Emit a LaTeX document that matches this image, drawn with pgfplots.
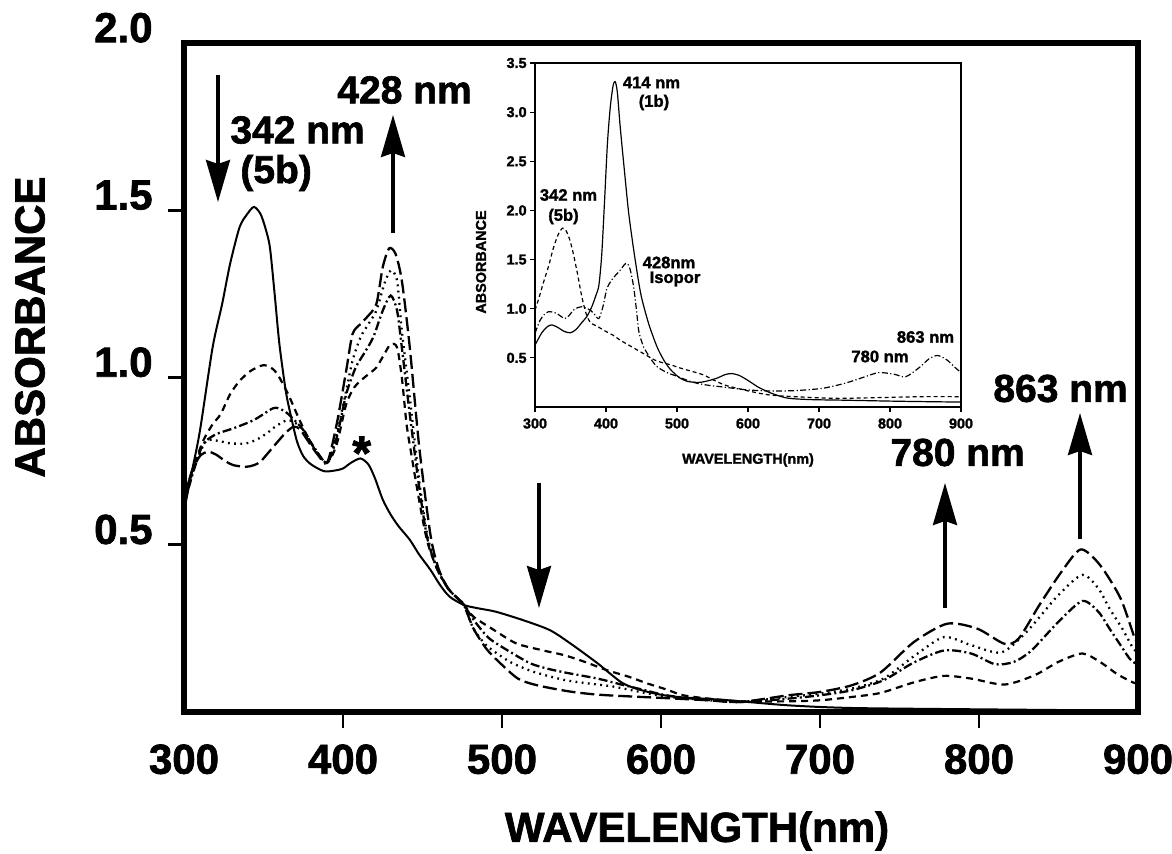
\documentclass[border=0pt]{standalone}
\usepackage{fontspec}
\setmainfont{Liberation Sans}[BoldFeatures={FakeBold=1.6}]
\usepackage{pgfplots}
\pgfplotsset{compat=1.18}
\usetikzlibrary{arrows.meta}
\newcommand{\bigfnt}{\bfseries\fontsize{21}{22}\selectfont}
\newcommand{\annfnt}{\bfseries\fontsize{19.5}{21}\selectfont}
\newcommand{\insfnt}{\bfseries\fontsize{7.2}{8}\selectfont}
\newcommand{\insann}{\bfseries\fontsize{8.3}{9}\selectfont}
\tikzset{
 cA/.style={line width=1pt, smooth, tension=0.45},
 cB/.style={line width=1.1pt, smooth, tension=0.45, dash pattern=on 3.5pt off 2.5pt},
 cC/.style={line width=1.15pt, smooth, tension=0.45, dash pattern=on 4.5pt off 1.6pt on 1pt off 1.6pt},
 cD/.style={line width=1.15pt, smooth, tension=0.45, dash pattern=on 0.9pt off 2.2pt},
 cE/.style={line width=1.15pt, smooth, tension=0.45, dash pattern=on 7pt off 2.5pt},
 bigarrow/.style={line width=1.7pt, -{Stealth[length=21pt,width=12pt,inset=2pt]}},
}
\begin{document}
\begin{tikzpicture}
\useasboundingbox (-92pt,-70.5pt) rectangle (494pt,356pt);
% ---------------- main axis ----------------
\begin{axis}[
 at={(0,0)}, anchor=south west,
 scale only axis, width=477pt, height=334.5pt,
 xmin=300, xmax=900, ymin=0, ymax=2,
 clip=false,
 axis line style={line width=2.6pt},
 tick align=outside, major tick length=8pt,
 major tick style={line width=1.3pt, black},
 xtick pos=bottom, ytick pos=left,
 xtick={400,500,600,700,800}, xticklabels={400,500,600,700,800},
 ytick={0.5,1,1.5}, yticklabels={0.5,1.0,1.5},
 extra x ticks={300,900}, extra x tick labels={300,900},
 extra y ticks={2}, extra y tick labels={2.0},
 extra tick style={major tick style={draw=none}},
 xticklabel style={font=\bigfnt, inner sep=0pt, anchor=north, yshift=-8pt},
 yticklabel style={font=\bigfnt, inner sep=0pt, anchor=south east, xshift=-7.5pt},
]
% solid (5b)
\addplot[cA] coordinates {
(300,0.60)(305,0.72)(310,0.84)(318,1.09)(324,1.22)(329,1.34)(335,1.45)(340,1.49)(344,1.51)(348,1.49)(351,1.45)(354,1.39)(357,1.25)(360,1.10)(364,0.96)(367,0.89)(371,0.81)(375,0.765)(380,0.74)(388,0.72)(395,0.722)(400,0.728)(405,0.745)(411,0.758)(416,0.74)(420,0.70)(425,0.635)(430,0.59)(435,0.555)(442,0.515)(448,0.47)(455,0.425)(461,0.38)(467,0.345)(476,0.32)(485,0.31)(496,0.30)(513,0.275)(530,0.245)(543,0.205)(560,0.146)(576,0.086)(591,0.061)(608,0.046)(640,0.036)(680,0.02)(720,0.012)(800,0.008)(900,0.004)};
% short dash
\addplot[cB] coordinates {
(300,0.64)(305,0.72)(312,0.81)(318,0.86)(323,0.89)(329,0.95)(335,0.99)(342,1.02)(350,1.037)(356,1.025)(360,1.00)(366,0.945)(372,0.88)(377,0.83)(383,0.78)(390,0.745)(396,0.80)(402,0.92)(407,0.97)(411,0.99)(416,1.01)(421,1.03)(426,1.07)(430,1.10)(434,1.09)(437,1.00)(440,0.86)(443,0.77)(448,0.63)(453,0.51)(459,0.43)(466,0.37)(472,0.34)(477,0.315)(482,0.285)(495,0.245)(509,0.205)(525,0.185)(539,0.17)(552,0.15)(566,0.125)(580,0.105)(591,0.086)(603,0.068)(614,0.05)(630,0.04)(650,0.032)(680,0.032)(700,0.035)(720,0.045)(738,0.057)(760,0.09)(778,0.108)(795,0.10)(816,0.082)(835,0.11)(850,0.15)(865,0.175)(876,0.15)(887,0.113)(897,0.088)(900,0.085)};
% dash-dot
\addplot[cC] coordinates {
(300,0.62)(306,0.72)(312,0.80)(320,0.83)(331,0.848)(344,0.873)(356,0.908)(361,0.905)(365,0.893)(370,0.87)(375,0.843)(382,0.79)(390,0.745)(396,0.82)(402,0.95)(408,1.03)(413,1.07)(419,1.12)(425,1.20)(430,1.245)(434,1.20)(437,1.09)(442,0.89)(448,0.67)(453,0.52)(459,0.43)(466,0.37)(472,0.34)(476,0.32)(483,0.27)(492,0.22)(505,0.18)(518,0.145)(530,0.128)(543,0.115)(560,0.10)(576,0.081)(590,0.065)(602,0.051)(620,0.04)(650,0.03)(680,0.04)(700,0.05)(720,0.065)(740,0.095)(759,0.148)(778,0.184)(795,0.175)(810,0.143)(822,0.15)(833,0.184)(850,0.27)(865,0.332)(875,0.30)(882,0.25)(889,0.20)(895,0.158)(900,0.14)};
% dotted
\addplot[cD] coordinates {
(300,0.63)(307,0.74)(314,0.81)(322,0.81)(329,0.803)(339,0.803)(346,0.815)(352,0.833)(358,0.855)(365,0.873)(369,0.866)(373,0.853)(380,0.80)(390,0.745)(396,0.83)(402,0.96)(406,1.05)(411,1.12)(416,1.16)(421,1.20)(426,1.28)(430,1.32)(434,1.29)(437,1.14)(442,0.94)(448,0.69)(453,0.53)(459,0.43)(466,0.37)(472,0.34)(476,0.32)(482,0.25)(490,0.20)(500,0.165)(507,0.145)(520,0.12)(539,0.096)(555,0.085)(570,0.076)(591,0.056)(605,0.045)(630,0.035)(650,0.03)(680,0.045)(700,0.055)(720,0.07)(740,0.10)(760,0.17)(778,0.224)(795,0.20)(814,0.178)(830,0.24)(850,0.35)(865,0.41)(875,0.37)(882,0.31)(890,0.25)(897,0.19)(900,0.18)};
% long dash
\addplot[cE] coordinates {
(300,0.64)(305,0.72)(310,0.765)(315,0.778)(320,0.77)(326,0.75)(331,0.738)(339,0.733)(344,0.738)(348,0.748)(353,0.775)(358,0.803)(364,0.835)(369,0.853)(373,0.845)(378,0.81)(384,0.77)(390,0.745)(396,0.86)(402,1.02)(406,1.13)(411,1.16)(415,1.18)(421,1.22)(425,1.33)(429,1.386)(433,1.37)(437,1.29)(442,1.09)(448,0.79)(455,0.53)(460,0.43)(466,0.37)(472,0.34)(476,0.32)(482,0.25)(490,0.19)(498,0.15)(510,0.10)(522,0.08)(543,0.061)(563,0.051)(601,0.042)(630,0.035)(650,0.03)(680,0.05)(700,0.06)(720,0.08)(738,0.118)(759,0.209)(780,0.264)(799,0.249)(816,0.204)(825,0.22)(838,0.32)(852,0.42)(864,0.486)(876,0.44)(889,0.34)(898,0.22)(900,0.21)};
\end{axis}
% ---------------- inset axis ----------------
\begin{axis}[
 at={(175.5pt,152.5pt)}, anchor=south west,
 scale only axis, width=213pt, height=172pt,
 xmin=300, xmax=900, ymin=0, ymax=3.5,
 clip=false,
 axis line style={line width=0.8pt},
 tick align=outside, major tick length=2.5pt,
 major tick style={line width=0.6pt, black},
 xtick pos=bottom, ytick pos=left,
 xtick={300,400,500,600,700,800,900}, xticklabels={300,400,500,600,700,800,900},
 ytick={0.5,1,1.5,2,2.5,3,3.5}, yticklabels={0.5,1.0,1.5,2.0,2.5,3.0,3.5},
 xticklabel style={font=\insfnt, inner sep=0pt, anchor=north, yshift=-3pt},
 yticklabel style={font=\insfnt, inner sep=0pt, anchor=east, xshift=-1.5pt},
]
\addplot[line width=0.6pt, smooth, tension=0.45] coordinates {
(300,0.63)(310,0.76)(318,0.82)(324,0.835)(332,0.81)(341,0.77)(350,0.755)(358,0.79)(366,0.86)(373,0.92)(380,1.02)(386,1.14)(390,1.24)(394,1.55)(398,2.10)(402,2.68)(406,3.05)(410,3.27)(413,3.31)(416,3.20)(420,2.85)(426,2.40)(432,1.97)(440,1.55)(449,1.15)(460,0.85)(472,0.61)(482,0.47)(491,0.38)(503,0.30)(515,0.26)(530,0.25)(540,0.26)(555,0.29)(568,0.33)(577,0.34)(588,0.32)(600,0.27)(615,0.20)(633,0.14)(656,0.09)(690,0.075)(730,0.07)(800,0.06)(845,0.055)(900,0.05)};
\addplot[line width=0.6pt, smooth, tension=0.45, dash pattern=on 2pt off 1.5pt] coordinates {
(300,0.985)(306,1.12)(312,1.27)(319,1.43)(326,1.62)(333,1.76)(339,1.82)(344,1.79)(349,1.70)(354,1.56)(360,1.35)(366,1.12)(372,0.95)(378,0.86)(388,0.82)(397,0.78)(410,0.73)(420,0.68)(432,0.63)(444,0.58)(456,0.53)(468,0.48)(480,0.45)(491,0.43)(503,0.40)(515,0.375)(527,0.35)(538,0.325)(550,0.28)(567,0.224)(585,0.19)(605,0.156)(633,0.12)(680,0.10)(727,0.088)(780,0.095)(845,0.105)(900,0.105)};
\addplot[line width=0.6pt, smooth, tension=0.45, dash pattern=on 3pt off 1.2pt on 0.6pt off 1.2pt] coordinates {
(300,0.75)(307,0.88)(313,0.94)(319,0.97)(325,0.965)(331,0.95)(337,0.92)(342,0.90)(348,0.93)(354,0.985)(360,1.01)(366,1.02)(372,1.005)(378,0.985)(384,0.94)(390,0.90)(396,1.03)(401,1.20)(406,1.27)(411,1.32)(416,1.36)(421,1.40)(426,1.45)(430,1.46)(434,1.40)(439,1.22)(443,0.98)(446,0.78)(450,0.67)(453,0.61)(462,0.50)(472,0.41)(486,0.35)(501,0.31)(515,0.27)(529,0.24)(545,0.22)(562,0.206)(580,0.19)(600,0.173)(633,0.163)(660,0.165)(680,0.173)(705,0.19)(727,0.224)(745,0.26)(765,0.308)(784,0.35)(805,0.335)(822,0.308)(841,0.40)(855,0.49)(867,0.524)(880,0.48)(892,0.40)(900,0.35)};
\end{axis}
% ---------------- axis titles ----------------
\node[rotate=90, font=\bigfnt, inner sep=0pt] at (-77pt,192.5pt) {ABSORBANCE};
\node[font=\bigfnt, inner sep=0pt] at (256.5pt,-59.5pt) {WAVELENGTH(nm)};
\node[rotate=90, font=\insfnt, inner sep=0pt] at (148.5pt,225pt) {ABSORBANCE};
\node[font=\insfnt, inner sep=0pt] at (282pt,126pt) {WAVELENGTH(nm)};
% ---------------- main annotations ----------------
\draw[bigarrow] (17pt,318.5pt) -- (17pt,255pt);
\node[font=\annfnt, inner sep=0pt, anchor=west] at (23pt,291pt) {342 nm};
\node[font=\annfnt, inner sep=0pt, anchor=west] at (28pt,269.5pt) {(5b)};
\draw[bigarrow] (104.5pt,239.5pt) -- (104.5pt,298.5pt);
\node[font=\annfnt, inner sep=0pt, anchor=west] at (76.5pt,311pt) {428 nm};
\node[inner sep=0pt] at (88.85pt,129.5pt) {\bfseries\fontsize{24}{24}\selectfont *};
\draw[bigarrow] (177.5pt,114.5pt) -- (177.5pt,52pt);
\draw[bigarrow] (380.5pt,52pt) -- (380.5pt,114.5pt);
\node[font=\annfnt, inner sep=0pt, anchor=west] at (353pt,129.75pt) {780 nm};
\draw[bigarrow] (448pt,86.5pt) -- (448pt,149.5pt);
\node[font=\annfnt, inner sep=0pt, anchor=west] at (404.5pt,161.75pt) {863 nm};
% ---------------- inset annotations ----------------
\node[font=\insann, inner sep=0pt] at (233.75pt,314.75pt) {414 nm};
\node[font=\insann, inner sep=0pt] at (235pt,304.75pt) {(1b)};
\node[font=\insann, inner sep=0pt] at (192.25pt,258.5pt) {342 nm};
\node[font=\insann, inner sep=0pt] at (189.75pt,247.75pt) {(5b)};
\node[font=\insann, inner sep=0pt] at (242.5pt,224.75pt) {428nm};
\node[font=\insann, inner sep=0pt] at (245.5pt,216.5pt) {Isopor};
\node[font=\insann, inner sep=0pt] at (348pt,177.75pt) {780 nm};
\node[font=\insann, inner sep=0pt] at (370.75pt,187.5pt) {863 nm};
\end{tikzpicture}
\end{document}
